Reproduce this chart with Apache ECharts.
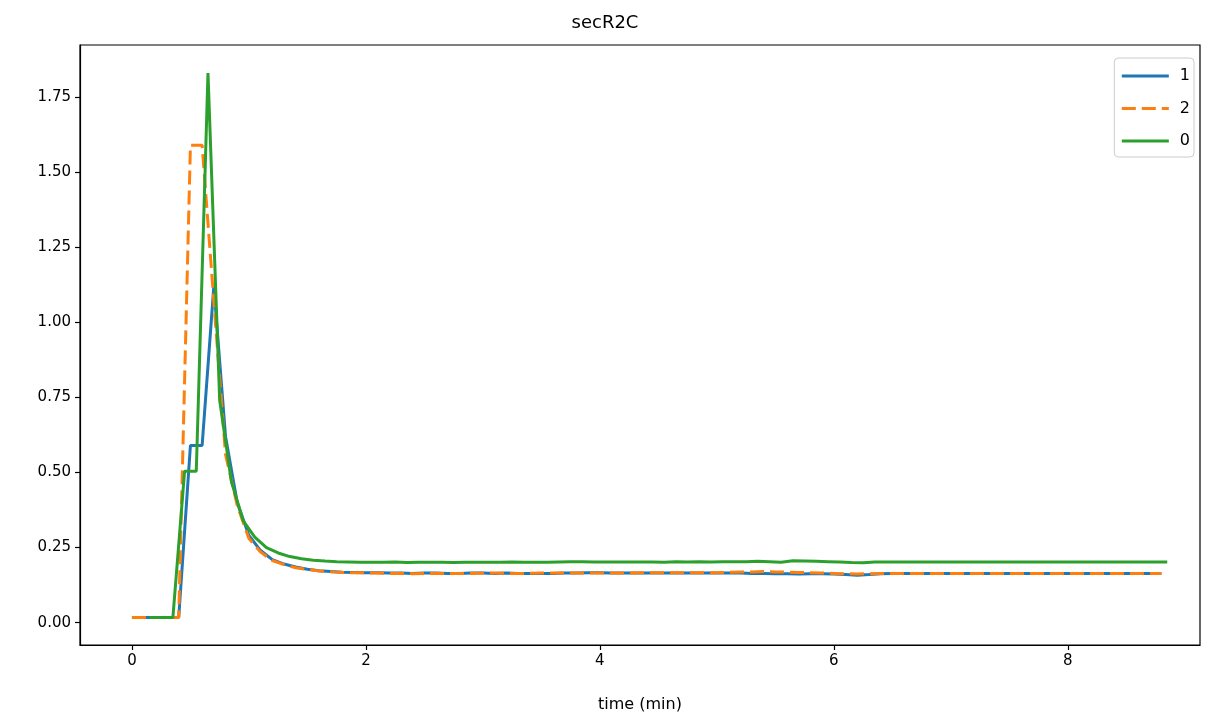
<!DOCTYPE html>
<html>
<head>
<meta charset="utf-8">
<script src="https://cdn.jsdelivr.net/npm/echarts@6/dist/echarts.min.js"></script>
<style>html,body{margin:0;padding:0;background:#fff}#c{width:1210px;height:719px}</style>
</head>
<body>
<div id="c"></div>
<script>
// time (min) for series "1" and "2"
const t12 = [0.0,0.1,0.2,0.3,0.4,0.5,0.6,0.7,0.8,0.9,1.0,1.1,1.2,1.3,1.4,1.5,1.6,1.7,1.8,1.9,
  2.0,2.1,2.2,2.3,2.4,2.5,2.6,2.7,2.8,2.9,3.0,3.1,3.2,3.3,3.4,3.5,3.6,3.7,3.8,3.9,
  4.0,4.1,4.2,4.3,4.4,4.5,4.6,4.7,4.8,4.9,5.0,5.1,5.2,5.3,5.4,5.5,5.6,5.7,5.8,5.9,
  6.0,6.1,6.2,6.3,6.4,6.5,6.6,6.7,6.8,6.9,7.0,7.1,7.2,7.3,7.4,7.5,7.6,7.7,7.8,7.9,
  8.0,8.1,8.2,8.3,8.4,8.5,8.6,8.7,8.8];
// time (min) for series "0"
const t0 = [0.15,0.25,0.35,0.45,0.55,0.65,0.75,0.85,0.95,1.05,1.15,1.25,1.35,1.45,1.55,1.65,1.75,1.85,1.95,
  2.05,2.15,2.25,2.35,2.45,2.55,2.65,2.75,2.85,2.95,3.05,3.15,3.25,3.35,3.45,3.55,3.65,3.75,3.85,3.95,
  4.05,4.15,4.25,4.35,4.45,4.55,4.65,4.75,4.85,4.95,5.05,5.15,5.25,5.35,5.45,5.55,5.65,5.75,5.85,5.95,
  6.05,6.15,6.25,6.35,6.45,6.55,6.65,6.75,6.85,6.95,7.05,7.15,7.25,7.35,7.45,7.55,7.65,7.75,7.85,7.95,
  8.05,8.15,8.25,8.35,8.45,8.55,8.65,8.75,8.85];
const s1 = [0.017,0.017,0.017,0.017,0.017,0.59,0.59,1.12,0.62,0.40,0.29,0.24,0.21,0.195,0.185,0.178,0.173,0.170,0.168,0.167,
  0.166,0.166,0.165,0.165,0.164,0.165,0.165,0.164,0.164,0.165,0.165,0.164,0.165,0.164,0.164,0.164,0.164,0.165,0.165,0.166,
  0.166,0.165,0.165,0.165,0.165,0.165,0.165,0.165,0.165,0.165,0.165,0.165,0.165,0.164,0.164,0.163,0.163,0.162,0.163,0.163,
  0.162,0.160,0.158,0.160,0.163,0.164,0.164,0.164,0.164,0.164,0.164,0.164,0.164,0.164,0.164,0.164,0.164,0.164,0.164,0.164,
  0.164,0.164,0.164,0.164,0.164,0.164,0.164,0.164,0.164];
const s2 = [0.017,0.017,0.017,0.017,0.017,1.59,1.59,1.07,0.56,0.39,0.28,0.235,0.207,0.193,0.183,0.177,0.172,0.169,0.167,0.166,
  0.166,0.165,0.164,0.164,0.163,0.164,0.164,0.164,0.164,0.164,0.165,0.165,0.164,0.164,0.164,0.165,0.165,0.165,0.165,0.165,
  0.165,0.165,0.165,0.165,0.166,0.166,0.166,0.166,0.166,0.166,0.166,0.168,0.169,0.169,0.170,0.169,0.168,0.167,0.166,0.165,
  0.164,0.163,0.162,0.163,0.164,0.164,0.164,0.164,0.164,0.164,0.164,0.164,0.164,0.164,0.164,0.164,0.164,0.164,0.164,0.164,
  0.164,0.164,0.164,0.164,0.164,0.164,0.164,0.164,0.164];
const s0 = [0.017,0.017,0.017,0.504,0.504,1.83,0.74,0.47,0.34,0.285,0.25,0.232,0.22,0.213,0.208,0.205,0.203,0.202,0.201,
  0.201,0.201,0.202,0.200,0.201,0.201,0.201,0.200,0.201,0.201,0.201,0.201,0.202,0.201,0.201,0.201,0.202,0.203,0.203,0.202,
  0.202,0.202,0.202,0.202,0.202,0.201,0.203,0.202,0.203,0.202,0.203,0.203,0.203,0.204,0.203,0.201,0.206,0.205,0.204,0.203,
  0.202,0.200,0.199,0.202,0.202,0.202,0.202,0.202,0.202,0.202,0.202,0.202,0.202,0.202,0.202,0.202,0.202,0.202,0.202,0.202,
  0.202,0.202,0.202,0.202,0.202,0.202,0.202,0.202,0.202];
const xTicks = [0,2,4,6,8];
const yTicks = [0,0.25,0.5,0.75,1.0,1.25,1.5,1.75];

const zip = (xs, ys) => xs.map((x, i) => [x, ys[i]]);
const FONT = 'DejaVu Sans';
const chart = echarts.init(document.getElementById('c'), null, {renderer: 'canvas'});
chart.setOption({
  animation: false,
  backgroundColor: '#fff',
  title: {text: 'secR2C', left: 'center', top: 9,
    textStyle: {fontFamily: FONT, fontSize: 18, fontWeight: 'normal', color: '#000'}},
  grid: {left: 80, right: 10, top: 45, bottom: 74, show: true, borderColor: '#000', borderWidth: 1.2, backgroundColor: 'transparent'},
  legend: {
    orient: 'vertical', right: 16, top: 58,
    data: ['1', '2', '0'],
    itemWidth: 47, itemHeight: 14, itemGap: 16.5,
    padding: [10, 4, 8, 6],
    itemStyle: {opacity: 0},
    lineStyle: {width: 3},
    backgroundColor: '#fff', borderColor: '#cccccc', borderWidth: 1, borderRadius: 4,
    textStyle: {fontFamily: FONT, fontSize: 16, color: '#000', padding: [0, 0, 0, 6]}
  },
  xAxis: {
    type: 'value', min: -0.444, max: 9.13,
    name: 'time (min)', nameLocation: 'middle', nameGap: 52,
    nameTextStyle: {fontFamily: FONT, fontSize: 16, color: '#000'},
    axisLine: {show: true, onZero: false, lineStyle: {color: '#000', width: 1.2}},
    axisTick: {show: true, customValues: xTicks, length: 5, lineStyle: {color: '#000', width: 1.2}},
    axisLabel: {customValues: xTicks, fontFamily: FONT, fontSize: 15, color: '#000', margin: 9},
    splitLine: {show: false}
  },
  yAxis: {
    type: 'value', min: -0.0745, max: 1.9235,
    axisLine: {show: true, onZero: false, lineStyle: {color: '#000', width: 1.2}},
    axisTick: {show: true, customValues: yTicks, length: 5, lineStyle: {color: '#000', width: 1.2}},
    axisLabel: {customValues: yTicks, fontFamily: FONT, fontSize: 15, color: '#000', margin: 9,
      formatter: v => v.toFixed(2)},
    splitLine: {show: false}
  },
  series: [
    {name: '1', type: 'line', data: zip(t12, s1), symbol: 'none', color: '#1f77b4',
      lineStyle: {width: 3, color: '#1f77b4'}},
    {name: '2', type: 'line', data: zip(t12, s2), symbol: 'none', color: '#ff7f0e',
      lineStyle: {width: 3, color: '#ff7f0e', type: [14, 6]}},
    {name: '0', type: 'line', data: zip(t0, s0), symbol: 'none', color: '#2ca02c',
      lineStyle: {width: 3, color: '#2ca02c'}}
  ]
});
</script>
</body>
</html>
